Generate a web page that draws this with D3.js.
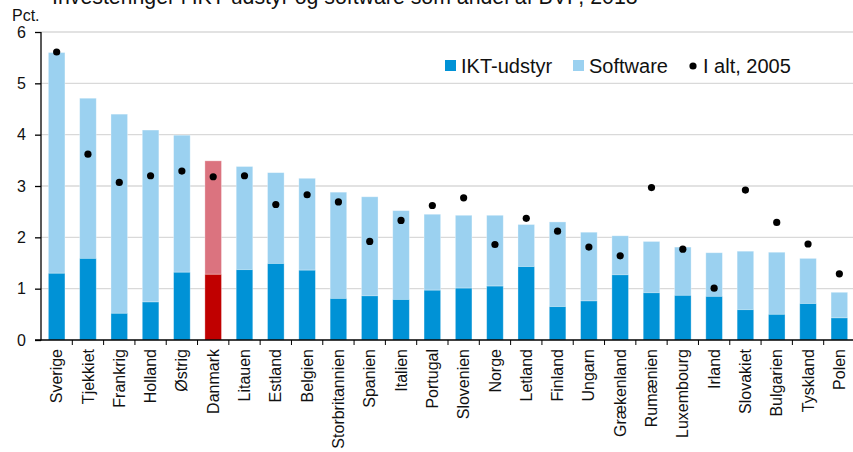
<!DOCTYPE html>
<html>
<head>
<meta charset="utf-8">
<script src="https://cdn.jsdelivr.net/npm/d3@7"></script>
<style>
  body { margin: 0; background: #fff; }
  svg { display: block; font-family: "Liberation Sans", Arial, sans-serif; }
</style>
</head>
<body>
<svg id="chart" width="853" height="452"></svg>
<script>
// data (pct. of GDP)
var countries = ["Sverige", "Tjekkiet", "Frankrig", "Holland", "Østrig", "Danmark", "Litauen", "Estland",
  "Belgien", "Storbritannien", "Spanien", "Italien", "Portugal", "Slovenien", "Norge", "Letland", "Finland",
  "Ungarn", "Grækenland", "Rumænien", "Luxembourg", "Irland", "Slovakiet", "Bulgarien", "Tyskland", "Polen"];
var iktUdstyr = [1.30, 1.59, 0.52, 0.74, 1.32, 1.28, 1.37, 1.49, 1.36, 0.81, 0.86, 0.79, 0.97, 1.01, 1.05,
  1.43, 0.65, 0.76, 1.27, 0.92, 0.87, 0.85, 0.59, 0.50, 0.71, 0.43];
var software = [4.30, 3.12, 3.88, 3.35, 2.67, 2.21, 2.01, 1.77, 1.79, 2.07, 1.93, 1.73, 1.48, 1.42, 1.38,
  0.82, 1.65, 1.34, 0.76, 1.00, 0.94, 0.85, 1.14, 1.21, 0.88, 0.50];
var iAlt2005 = [5.61, 3.62, 3.07, 3.20, 3.29, 3.18, 3.20, 2.64, 2.83, 2.69, 1.92, 2.33, 2.62, 2.77, 1.86,
  2.37, 2.12, 1.81, 1.64, 2.97, 1.77, 1.01, 2.92, 2.29, 1.87, 1.29];
var yTicks = [0, 1, 2, 3, 4, 5, 6];
var highlight = "Danmark";

var svg = d3.select("#chart");
var plotLeft = 41, plotRight = 855, plotTop = 32, plotBottom = 340;

var x = d3.scaleBand().domain(countries).range([plotLeft, plotRight])
    .paddingInner(0.47).paddingOuter(0.235);
var y = d3.scaleLinear().domain([0, 6]).range([plotBottom, plotTop]);

var colIkt = "#0092d6", colSoft = "#9bd1f0";
var colIktDk = "#c00000", colSoftDk = "#db737f";

// title (cut off at the top like in the original)
svg.append("text")
    .attr("x", 52).attr("y", 4)
    .attr("font-size", 21.3).attr("fill", "#111")
    .text("Investeringer i IKT-udstyr og software som andel af BVP, 2018");

// gridlines
svg.append("g").selectAll("line")
    .data(yTicks.filter(function(d){ return d > 0; }))
    .enter().append("line")
    .attr("x1", plotLeft).attr("x2", 853)
    .attr("y1", function(d){ return y(d); }).attr("y2", function(d){ return y(d); })
    .attr("stroke", "#d9d9d9").attr("stroke-width", 1.3);

// stacked bars
var rows = countries.map(function(c, i){
    return {name: c, ikt: iktUdstyr[i], soft: software[i], old: iAlt2005[i]};
});

var bars = svg.append("g").selectAll("g")
    .data(rows).enter().append("g");

bars.append("rect")
    .attr("x", function(d){ return x(d.name); })
    .attr("width", x.bandwidth())
    .attr("y", function(d){ return y(d.ikt + d.soft); })
    .attr("height", function(d){ return y(d.ikt) - y(d.ikt + d.soft); })
    .attr("fill", function(d){ return d.name == highlight ? colSoftDk : colSoft; })
    .attr("stroke", "#fff").attr("stroke-opacity", 0.4).attr("stroke-width", 0.8);

bars.append("rect")
    .attr("x", function(d){ return x(d.name); })
    .attr("width", x.bandwidth())
    .attr("y", function(d){ return y(d.ikt); })
    .attr("height", function(d){ return y(0) - y(d.ikt); })
    .attr("fill", function(d){ return d.name == highlight ? colIktDk : colIkt; })
    .attr("stroke", "#fff").attr("stroke-opacity", 0.4).attr("stroke-width", 0.8);

// 2005 dots
svg.append("g").selectAll("circle")
    .data(rows).enter().append("circle")
    .attr("cx", function(d){ return x(d.name) + x.bandwidth() / 2; })
    .attr("cy", function(d){ return y(d.old); })
    .attr("r", 3.6)
    .attr("fill", "#000");

// y axis
var yAxis = svg.append("g")
    .attr("transform", "translate(" + plotLeft + ",0)")
    .call(d3.axisLeft(y).tickValues(yTicks).tickSize(6).tickPadding(9).tickFormat(d3.format("d")));
yAxis.select(".domain").attr("stroke", "#000").attr("stroke-width", 1.3)
    .attr("d", "M0," + (plotBottom + 0.5) + "V" + plotTop);
yAxis.selectAll(".tick line").attr("stroke", "#000").attr("stroke-width", 1.3);
yAxis.selectAll(".tick text").attr("font-size", 16).attr("fill", "#111")
    .attr("font-family", "Liberation Sans, Arial, sans-serif");

svg.append("text")
    .attr("x", 12).attr("y", 21)
    .attr("font-size", 16).attr("fill", "#111")
    .text("Pct.");

// x axis: line, ticks at category boundaries, rotated labels
svg.append("line")
    .attr("x1", plotLeft - 6).attr("x2", 853)
    .attr("y1", plotBottom).attr("y2", plotBottom)
    .attr("stroke", "#000").attr("stroke-width", 1.3);

svg.append("g").selectAll("line")
    .data(countries.slice(1)).enter().append("line")
    .attr("x1", function(d){ return x(d) - x.step() * x.paddingInner() / 2; })
    .attr("x2", function(d){ return x(d) - x.step() * x.paddingInner() / 2; })
    .attr("y1", plotBottom).attr("y2", plotBottom + 5)
    .attr("stroke", "#000").attr("stroke-width", 1);

svg.append("g").selectAll("text")
    .data(countries).enter().append("text")
    .attr("transform", function(d){
        return "translate(" + (x(d) + x.bandwidth() / 2) + "," + (plotBottom + 9) + ") rotate(-90)";
    })
    .attr("dy", "0.35em")
    .attr("text-anchor", "end")
    .attr("font-size", 16).attr("fill", "#111")
    .text(function(d){ return d; });

// legend
var legend = svg.append("g").attr("font-size", 20).attr("fill", "#111");
var legendItems = [
    {label: "IKT-udstyr", kind: "rect", color: colIkt, x: 445, tx: 461},
    {label: "Software", kind: "rect", color: colSoft, x: 573, tx: 589},
    {label: "I alt, 2005", kind: "dot", color: "#000", x: 693, tx: 703}
];
legendItems.forEach(function(it){
    if (it.kind == "rect") {
        legend.append("rect").attr("x", it.x).attr("y", 60).attr("width", 11).attr("height", 11)
            .attr("fill", it.color);
    } else {
        legend.append("circle").attr("cx", it.x).attr("cy", 66).attr("r", 3.6).attr("fill", it.color);
    }
    legend.append("text").attr("x", it.tx).attr("y", 73).text(it.label);
});
</script>
</body>
</html>
